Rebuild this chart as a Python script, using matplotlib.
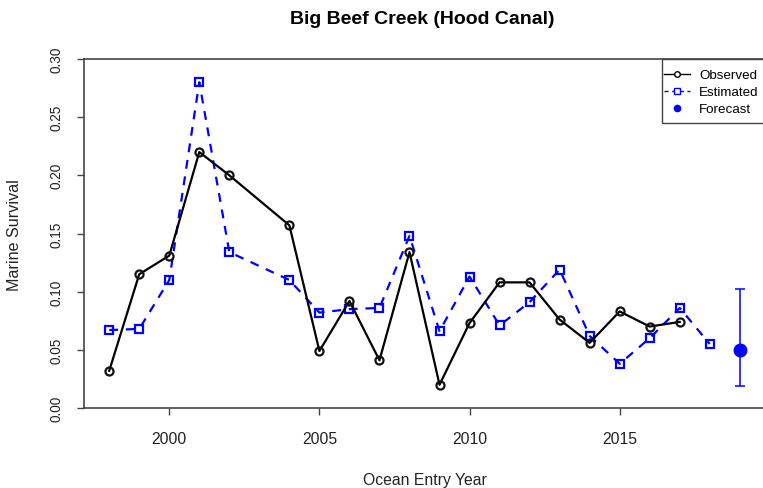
import matplotlib
matplotlib.use("Agg")
import matplotlib.pyplot as plt
from matplotlib.lines import Line2D
from matplotlib.patches import Rectangle

plt.rcParams['font.family'] = ['Liberation Sans', 'DejaVu Sans']

# Data
obs_years = [1998, 1999, 2000, 2001, 2002, 2004, 2005, 2006, 2007, 2008,
             2009, 2010, 2011, 2012, 2013, 2014, 2015, 2016, 2017]
obs_vals = [0.032, 0.115, 0.131, 0.220, 0.200, 0.157, 0.049, 0.092, 0.041, 0.134,
            0.020, 0.073, 0.108, 0.108, 0.076, 0.056, 0.083, 0.070, 0.074]
est_years = [1998, 1999, 2000, 2001, 2002, 2004, 2005, 2006, 2007, 2008,
             2009, 2010, 2011, 2012, 2013, 2014, 2015, 2016, 2017, 2018]
est_vals = [0.067, 0.068, 0.110, 0.280, 0.134, 0.110, 0.082, 0.085, 0.086, 0.148,
            0.066, 0.113, 0.071, 0.091, 0.119, 0.062, 0.038, 0.060, 0.086, 0.055]
fc_year = [2019]
fc_val = [0.050]
fc_low = [0.019]
fc_high = [0.102]
x_ticks = [2000, 2005, 2010, 2015]
y_ticks = [0.00, 0.05, 0.10, 0.15, 0.20, 0.25, 0.30]

W, H = 763, 489
fig = plt.figure(figsize=(W / 100, H / 100), dpi=100)
L, R, T, B = 84, 765, 60, 409
ax = fig.add_axes([L / W, 1 - B / H, (R - L) / W, (B - T) / H])

ax.plot(obs_years, obs_vals, color='black', lw=1.6, marker='o', ms=5.8,
        mfc='none', mec='#111111', mew=1.6, zorder=3)
ax.plot(est_years, est_vals, color='#0000FF', lw=1.6, ls=(0, (4, 3.5)), marker='s',
        ms=5.8, mfc='none', mec='#0000FF', mew=1.6, zorder=2)
yerr = [[v - lo for v, lo in zip(fc_val, fc_low)], [hi - v for v, hi in zip(fc_val, fc_high)]]
ax.errorbar(fc_year, fc_val, yerr=yerr, fmt='o', color='#0000FF', ms=9,
            ecolor='#0000FF', elinewidth=1.1, capsize=3.8, capthick=1.1, zorder=4)

xr = 2019 - 1998
ax.set_xlim(1998 - 0.04 * xr, 2019 + 0.04 * xr)
ax.set_ylim(0, 0.30)
ax.set_xticks(x_ticks)
ax.set_xticklabels([str(t) for t in x_ticks], fontsize=11.3, color='#222222')
ax.set_yticks(y_ticks)
ax.set_yticklabels(['%.2f' % t for t in y_ticks], fontsize=9.8, rotation=90,
                   va='center', color='#222222')
ax.tick_params(axis='both', direction='out', length=5, width=1, color='#444444')
ax.tick_params(axis='y', pad=10)
ax.tick_params(axis='x', pad=11.5)
for s in ax.spines.values():
    s.set_color('#444444')
    s.set_linewidth(1.2)

def fx(px):
    return px / W

def fy(py):
    return 1 - py / H

fig.text(fx(422), fy(20), 'Big Beef Creek (Hood Canal)', ha='center', va='center',
         fontsize=14.0, fontweight='bold', color='black')
fig.text(fx(425), fy(481), 'Ocean Entry Year', ha='center', va='center',
         fontsize=11.3, color='#222222')
fig.text(fx(14.5), fy(235), 'Marine Survival', ha='center', va='center',
         fontsize=11.6, rotation=90, color='#222222')

# legend frame (drawn by hand so the padding can match)
fig.patches.append(Rectangle((fx(662), fy(124)), fx(120), (124 - 60) / H,
                             transform=fig.transFigure, facecolor='white',
                             edgecolor='#444444', lw=1.0, zorder=5))
handles = [
    Line2D([], [], color='black', lw=1.0, marker='o', ms=4, mfc='white', mec='black', mew=1.0),
    Line2D([], [], color='#0000FF', lw=1.0, ls=(0, (3, 2.5)), marker='s', ms=4, mfc='white',
           mec='#0000FF', mew=1.0),
    Line2D([], [], color='#0000FF', lw=0, marker='o', ms=4.5),
]
leg = fig.legend(handles, ['Observed', 'Estimated', 'Forecast'], loc='upper left',
                 bbox_to_anchor=(fx(664), fy(70)), fontsize=9.6, frameon=False,
                 handlelength=1.95, handletextpad=0.7, labelspacing=0.35,
                 borderpad=0, borderaxespad=0)
leg.set_zorder(6)

fig.savefig('out.png', dpi=100)
